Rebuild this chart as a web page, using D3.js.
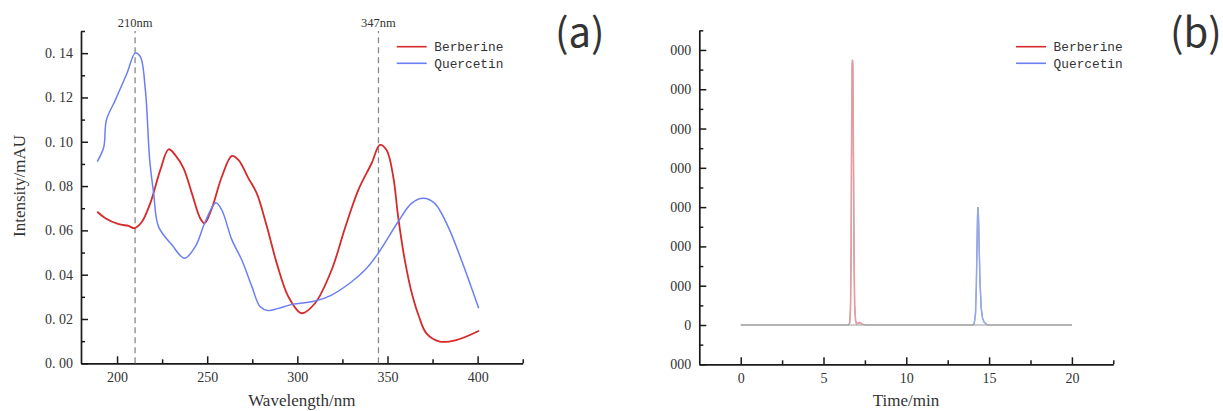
<!DOCTYPE html>
<html>
<head>
<meta charset="utf-8">
<script src="https://cdn.jsdelivr.net/npm/d3@7"></script>
<style>
  body { margin: 0; background: #fff; }
  svg { display: block; }
  text { fill: #333; }
</style>
</head>
<body>
<svg width="1223" height="411"></svg>
<script>
// series names used by both legends
const seriesNames = ['Berberine', 'Quercetin']

// (a) UV spectra
const berberineNm = [189, 193.5, 200.9, 206.4, 209.7, 213.8, 218.4, 224, 228.6, 232.3, 236.9, 241.5, 246.1, 248.5, 252.6, 258.1, 263.7, 267.3, 272.9, 277.5, 283.1, 288.6, 295, 302.4, 309.8, 319, 326.4, 333.8, 341.2, 345.8, 349.5, 353.2, 355.9, 359.6, 364, 367.5, 371.6, 379, 388.2, 400.8]
const berberineAbs = [0.0684, 0.0655, 0.0628, 0.062, 0.061, 0.0639, 0.0722, 0.0873, 0.0966, 0.094, 0.088, 0.0767, 0.0655, 0.0632, 0.07, 0.0842, 0.0936, 0.0918, 0.0835, 0.0767, 0.0617, 0.0451, 0.0301, 0.0226, 0.0271, 0.0421, 0.061, 0.0782, 0.0903, 0.0986, 0.0963, 0.0842, 0.0662, 0.0466, 0.03, 0.021, 0.0135, 0.0098, 0.0105, 0.0147]
const quercetinNm = [189, 192.6, 194.1, 199.1, 205.5, 210.1, 212.9, 215.7, 218.1, 220.3, 223, 230.5, 237.4, 243.4, 248.9, 254.8, 258.1, 263.7, 269.2, 274.8, 279.3, 283.6, 289.5, 296.9, 309.8, 319, 330.1, 337.5, 344.9, 355.9, 363.3, 369.8, 376.2, 383.6, 391, 400.6]
const quercetinAbs = [0.091, 0.0975, 0.1098, 0.1189, 0.1309, 0.14, 0.1384, 0.1234, 0.0918, 0.0767, 0.0617, 0.0534, 0.0474, 0.0527, 0.0639, 0.0725, 0.0692, 0.0557, 0.0466, 0.0346, 0.0256, 0.0238, 0.0248, 0.0266, 0.0281, 0.0308, 0.0368, 0.0421, 0.0497, 0.0639, 0.0722, 0.0745, 0.0722, 0.0617, 0.0466, 0.0248]
const markerNm = [210, 345]
const markerLabels = ['210nm', '347nm']
const xTicksA = [200, 250, 300, 350, 400]
const yTicksA = [0, 0.02, 0.04, 0.06, 0.08, 0.10, 0.12, 0.14]
const yTickLabelsA = ['0. 00', '0. 02', '0. 04', '0. 06', '0. 08', '0. 10', '0. 12', '0. 14']

// (b) chromatograms
const berberineTime = [0, 2, 4, 6, 6.5, 6.58, 6.63, 6.67, 6.7, 6.73, 6.75, 6.77, 6.8, 6.84, 6.88, 6.94, 7.0, 7.2, 7.35, 7.6, 9, 12, 15, 20]
const berberineSignal = [0, 0, 0, 0, 0, 50, 400, 2000, 5000, 6600, 6750, 6600, 5000, 2000, 500, 100, 30, 60, 20, 0, 0, 0, 0, 0]
const quercetinTime = [0, 4, 8, 12, 14, 14.1, 14.18, 14.23, 14.27, 14.3, 14.33, 14.36, 14.4, 14.45, 14.52, 14.6, 14.7, 14.85, 15, 17, 20]
const quercetinSignal = [0, 0, 0, 0, 0, 30, 300, 1000, 2000, 2750, 3000, 2750, 2000, 1100, 450, 180, 70, 20, 0, 0, 0]
const xTicksB = [0, 5, 10, 15, 20]
const yTicksB = [-1000, 0, 1000, 2000, 3000, 4000, 5000, 6000, 7000]
const yTickLabelsB = ['000', '0', '000', '000', '000', '000', '000', '000', '000']

const svg = d3.select('svg')
const serif = 'Liberation Serif, Times New Roman, serif'
const panelFont = 'Noto Sans CJK SC, Liberation Sans, sans-serif'

function drawAxes(x, y, opt) {
    const xAxis = d3.axisBottom(x).tickValues(opt.xTicks).tickSizeInner(-7).tickSizeOuter(0).tickPadding(9)
    const gx = svg.append('g').attr('transform', `translate(0, ${y.range()[0]})`).call(xAxis)
    const xMinor = d3.axisBottom(x).tickValues(opt.xMinor).tickSize(-4).tickFormat('')
    svg.append('g').attr('transform', `translate(0, ${y.range()[0]})`).call(xMinor)
        .call(g => g.select('.domain').remove())

    const yAxis = d3.axisLeft(y).tickValues(opt.yTicks).tickSizeInner(-7).tickSizeOuter(0).tickPadding(8)
        .tickFormat((d, i) => opt.yLabels[i])
    const gy = svg.append('g').attr('transform', `translate(${x.range()[0]}, 0)`).call(yAxis)
    const yMinor = d3.axisLeft(y).tickValues(opt.yMinor).tickSize(-4).tickFormat('')
    svg.append('g').attr('transform', `translate(${x.range()[0]}, 0)`).call(yMinor)
        .call(g => g.select('.domain').remove())

    svg.selectAll('.domain').attr('stroke', '#1a1a1a').attr('stroke-width', 1.7)
    svg.selectAll('.tick line').attr('stroke', '#1a1a1a').attr('stroke-width', 1.5)
    for (const g of [gx, gy]) {
        g.selectAll('text').attr('font-family', serif).attr('font-size', 14).attr('fill', '#333')
    }
}

function drawLegend(x0, colors) {
    seriesNames.forEach((name, i) => {
        const yy = 46.7 + i * 16.6
        svg.append('line').attr('x1', x0).attr('x2', x0 + 30).attr('y1', yy).attr('y2', yy)
            .attr('stroke', colors[i]).attr('stroke-width', 1.6)
        svg.append('text').attr('x', x0 + 37.6).attr('y', yy).attr('dy', '0.35em')
            .attr('font-family', 'Liberation Mono, monospace').attr('font-size', 12.8)
            .attr('fill', '#444').text(name)
    })
}

// ---------- panel (a)
const xA = d3.scaleLinear().domain([180, 425]).range([81, 522.7])
const yA = d3.scaleLinear().domain([0, 0.15]).range([363.3, 31])

drawAxes(xA, yA, {
    xTicks: xTicksA, xMinor: [225, 275, 325, 375, 425],
    yTicks: yTicksA, yMinor: [0.01, 0.03, 0.05, 0.07, 0.09, 0.11, 0.13, 0.15],
    yLabels: yTickLabelsA
})

markerNm.forEach((nm, i) => {
    svg.append('line').attr('x1', xA(nm)).attr('x2', xA(nm)).attr('y1', yA(0)).attr('y2', yA(0.15))
        .attr('stroke', '#888').attr('stroke-width', 1.3).attr('stroke-dasharray', '6,4')
    svg.append('text').attr('x', xA(nm)).attr('y', 27).attr('text-anchor', 'middle')
        .attr('font-family', serif).attr('font-size', 12.5).attr('fill', '#222')
        .text(markerLabels[i])
})

const lineA = d3.line().x(d => xA(d[0])).y(d => yA(d[1])).curve(d3.curveCatmullRom.alpha(0.5))
const colorsA = ['#d62a2a', '#6b7ff2']
svg.append('path').datum(berberineNm.map((d, i) => [d, berberineAbs[i]]))
    .attr('d', lineA).attr('fill', 'none').attr('stroke', colorsA[0]).attr('stroke-width', 1.8)
svg.append('path').datum(quercetinNm.map((d, i) => [d, quercetinAbs[i]]))
    .attr('d', lineA).attr('fill', 'none').attr('stroke', colorsA[1]).attr('stroke-width', 1.5)

drawLegend(396.7, colorsA)

svg.append('text').attr('x', 301.8).attr('y', 406).attr('text-anchor', 'middle')
    .attr('font-family', serif).attr('font-size', 17).attr('fill', '#222').text('Wavelength/nm')
svg.append('text').attr('transform', 'translate(25, 186) rotate(-90)').attr('text-anchor', 'middle')
    .attr('font-family', serif).attr('font-size', 17).attr('fill', '#222').text('Intensity/mAU')
svg.append('text').attr('x', 555).attr('y', 47)
    .attr('font-family', panelFont).attr('font-size', 40).attr('fill', '#222').text('(a)')

// ---------- panel (b)
const xB = d3.scaleLinear().domain([-2.5, 22.5]).range([699.3, 1113.3])
const yB = d3.scaleLinear().domain([-1000, 7500]).range([364.3, 30.3])

drawAxes(xB, yB, {
    xTicks: xTicksB, xMinor: [2.5, 7.5, 12.5, 17.5, 22.5],
    yTicks: yTicksB, yMinor: [-500, 500, 1500, 2500, 3500, 4500, 5500, 6500, 7500],
    yLabels: yTickLabelsB
})

const lineB = d3.line().x(d => xB(d[0])).y(d => yB(d[1]))
const peakB = d3.line().defined(d => d[1] > 15).x(d => xB(d[0])).y(d => yB(d[1]))
const colorsB = ['#e99a9e', '#93a8ee']
const traces = [
    berberineTime.map((t, i) => [t, berberineSignal[i]]),
    quercetinTime.map((t, i) => [t, quercetinSignal[i]])
]
traces.forEach(tr => {
    svg.append('path').datum(tr).attr('d', lineB).attr('fill', 'none')
        .attr('stroke', '#9a9a9a').attr('stroke-width', 1.2)
})
traces.forEach((tr, i) => {
    svg.append('path').datum(tr).attr('d', peakB).attr('fill', 'none')
        .attr('stroke', colorsB[i]).attr('stroke-width', 1.5)
})

drawLegend(1016, colorsA)

svg.append('text').attr('x', 906).attr('y', 406).attr('text-anchor', 'middle')
    .attr('font-family', serif).attr('font-size', 17).attr('fill', '#222').text('Time/min')
svg.append('text').attr('x', 1170).attr('y', 47)
    .attr('font-family', panelFont).attr('font-size', 40).attr('fill', '#222').text('(b)')
</script>
</body>
</html>
